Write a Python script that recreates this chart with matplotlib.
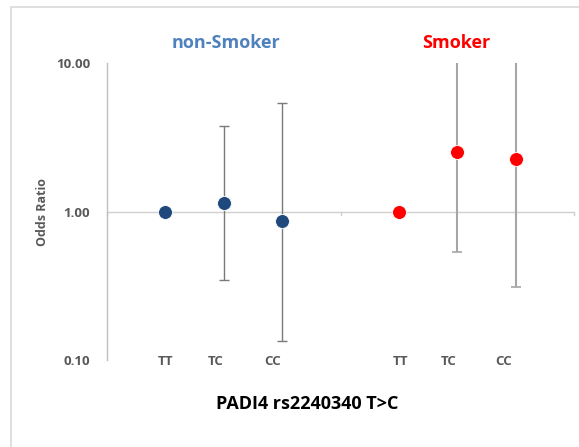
import matplotlib.pyplot as plt
from matplotlib.patches import Rectangle
import numpy as np

## genotype groups, odds ratios and 95% CI
genotypes = ['TT', 'TC', 'CC']
nonsmoker_or = [1.00, 1.14, 0.86]
nonsmoker_lo = [1.00, 0.347, 0.134]
nonsmoker_hi = [1.00, 3.76, 5.38]
smoker_or = [1.00, 2.51, 2.28]
smoker_lo = [1.00, 0.535, 0.311]
smoker_hi = [1.00, 14.0, 14.0]
nonsmoker_x = [1, 2, 3]
smoker_x = [5, 6, 7]
label_x = [1.01, 1.86, 2.84, 5.02, 5.85, 6.80]
yticks = [0.1, 1, 10]
yticklabels = ['0.10', '1.00', '10.00']

plt.rcParams['font.family'] = ['Open Sans', 'DejaVu Sans']

fig = plt.figure(figsize=(5.79, 4.47), dpi=100)
## outer chart frame
fig.add_artist(Rectangle((11/579, -0.1), 1.2, 1 - 7/447 + 0.1,
	transform=fig.transFigure, fill=False, edgecolor='#D9D9D9', lw=1.2))

ax = fig.add_axes([107/579, 87/447, 467/579, 296.7/447])
ax.set_yscale('log')
ax.set_xlim(0, 8)
ax.set_ylim(0.1, 10)

for s in ['top', 'right', 'bottom']:
	ax.spines[s].set_visible(False)
ax.spines['left'].set_color('#BFBFBF')
ax.spines['left'].set_linewidth(1.0)

## horizontal reference line at OR = 1 with category ticks
ax.axhline(1, color='#D0D0D0', lw=1.0, zorder=1)
for xt in [0, 4, 8]:
	ax.plot([xt, xt], [1, 0.945], color='#D0D0D0', lw=1.0, zorder=1, clip_on=False)

def yerr(orv, lo, hi):
	return [np.array(orv) - np.array(lo), np.array(hi) - np.array(orv)]

ax.errorbar(nonsmoker_x, nonsmoker_or, yerr=yerr(nonsmoker_or, nonsmoker_lo, nonsmoker_hi),
	fmt='none', ecolor='#7A7A7A', elinewidth=1.0, capsize=3.5, capthick=1.0, zorder=2)
ax.errorbar(smoker_x, smoker_or, yerr=yerr(smoker_or, smoker_lo, smoker_hi),
	fmt='none', ecolor='#A6A6A6', elinewidth=1.5, capsize=3.5, capthick=1.2, zorder=2)
ax.plot(nonsmoker_x, nonsmoker_or, 'o', color='#1F497D', ms=10, mec='white', mew=0.6, zorder=3)
ax.plot(smoker_x, smoker_or, 'o', color='#FF0000', ms=10, mec='white', mew=0.6, zorder=3)

ax.set_xticks([])
ax.set_yticks(yticks)
ax.set_yticklabels(yticklabels)
ax.yaxis.set_minor_locator(plt.NullLocator())
ax.tick_params(axis='y', length=0, pad=12, labelsize=9.5, labelcolor='#595959')
for t in ax.get_yticklabels():
	t.set_fontweight('bold')

## genotype labels just below the bottom of the axis
for xl, g in zip(label_x, genotypes * 2):
	ax.annotate(g, (xl, 0.1), xytext=(0, -1.7), textcoords='offset pixels',
		ha='center', va='center', fontsize=9.5, fontweight='bold', color='#595959',
		annotation_clip=False)

fig.text(42.5/579, 1 - 211.7/447, 'Odds Ratio', rotation=90, ha='center', va='center',
	fontsize=9, fontweight='bold', color='#595959')
fig.text(226/579, 1 - 42.7/447, 'non-Smoker', ha='center', va='center',
	fontsize=13, fontweight='bold', color='#4F81BD')
fig.text(456/579, 1 - 42.7/447, 'Smoker', ha='center', va='center',
	fontsize=13, fontweight='bold', color='#FF0000')
fig.text(307/579, 1 - 404/447, 'PADI4 rs2240340 T>C', ha='center', va='center',
	fontsize=13, fontweight='bold', color='black')

fig.savefig('out.png', dpi=100)
